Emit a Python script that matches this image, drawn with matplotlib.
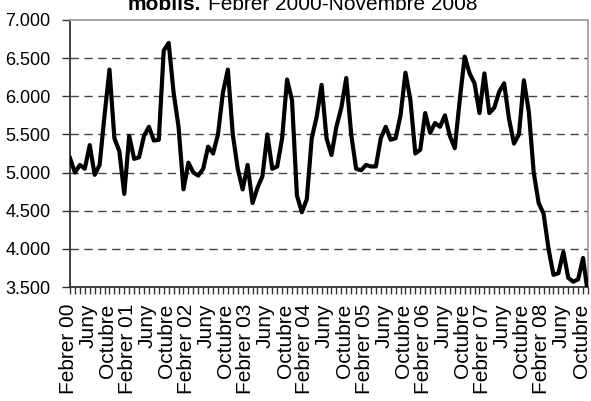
import numpy as np
import matplotlib
matplotlib.use("Agg")
import matplotlib.pyplot as plt
from matplotlib.ticker import FuncFormatter
from matplotlib.transforms import ScaledTranslation

plt.rcParams['font.family'] = ['Liberation Sans', 'DejaVu Sans']

# valors mensuals, Febrer 2000 - Novembre 2008
valors = [5190, 5000, 5100, 5050, 5360, 4970, 5100, 5750, 6350, 5450,
          5280, 4720, 5480, 5180, 5200, 5480, 5600, 5420, 5430, 6600,
          6700, 6050, 5600, 4780, 5130, 5000, 4960, 5050, 5340, 5250,
          5500, 6050, 6350, 5500, 5050, 4780, 5100, 4600, 4800, 4950,
          5500, 5050, 5080, 5450, 6220, 5950, 4700, 4480, 4650, 5450,
          5730, 6150, 5450, 5230, 5600, 5850, 6240, 5500, 5050, 5030,
          5100, 5080, 5080, 5450, 5600, 5430, 5450, 5750, 6310, 5950,
          5250, 5300, 5780, 5520, 5650, 5600, 5750, 5480, 5320, 5950,
          6520, 6300, 6170, 5780, 6300, 5780, 5850, 6060, 6170, 5700,
          5380, 5500, 6210, 5800, 5000, 4600, 4460, 4000, 3660, 3680,
          3960, 3620, 3570, 3600, 3880, 3400]

etiquetes = ["Febrer 00", "Juny", "Octubre", "Febrer 01", "Juny", "Octubre",
             "Febrer 02", "Juny", "Octubre", "Febrer 03", "Juny", "Octubre",
             "Febrer 04", "Juny", "Octubre", "Febrer 05", "Juny", "Octubre",
             "Febrer 06", "Juny", "Octubre", "Febrer 07", "Juny", "Octubre",
             "Febrer 08", "Juny", "Octubre"]

x = np.arange(len(valors))

fig = plt.figure(figsize=(5.91, 4.01), dpi=100)
ax = fig.add_axes([70/591, 1-287/401, 518/591, 267/401])

for v in [4000, 4500, 5000, 5500, 6000, 6500]:
    ax.axhline(v, color='#444444', lw=1.0, ls=(0, (6, 4)), zorder=1)

ax.plot(x, valors, color='black', lw=3.0, solid_joinstyle='round', zorder=3)

ax.set_xlim(0, len(valors)-1)
ax.set_ylim(3500, 7000)
ax.set_yticks(np.arange(3500, 7001, 500))
ax.yaxis.set_major_formatter(FuncFormatter(lambda v, p: f"{v:,.0f}".replace(",", ".")))

ax.set_xticks(x[::4])
ax.set_xticklabels(etiquetes, rotation=90, fontsize=15, va='top', ha='center')
ax.set_xticks(x, minor=True)
ax.tick_params(axis='x', which='both', direction='out', length=5, width=1,
               color='#333333', pad=7)
ax.tick_params(axis='y', direction='out', length=6, width=1, color='#333333',
               labelsize=13, pad=8)

# etiquetes una mica a l'esquerra perque l'ultima no quedi tallada
desp = ScaledTranslation(-2/100, 0, fig.dpi_scale_trans)
for t in ax.get_xticklabels():
    t.set_transform(t.get_transform() + desp)

for s in ['left', 'bottom']:
    ax.spines[s].set_color('#333333')
    ax.spines[s].set_linewidth(1.3)
for s in ['top', 'right']:
    ax.spines[s].set_color('#a0a0a0')
    ax.spines[s].set_linewidth(1.3)

fig.text(201/591, 1-9.5/401, "mobils.", fontsize=15, weight='bold',
         ha='right', va='baseline')
fig.text(208/591, 1-9.5/401, "Febrer 2000-Novembre 2008", fontsize=15,
         ha='left', va='baseline')

fig.savefig("out.png", dpi=100)
